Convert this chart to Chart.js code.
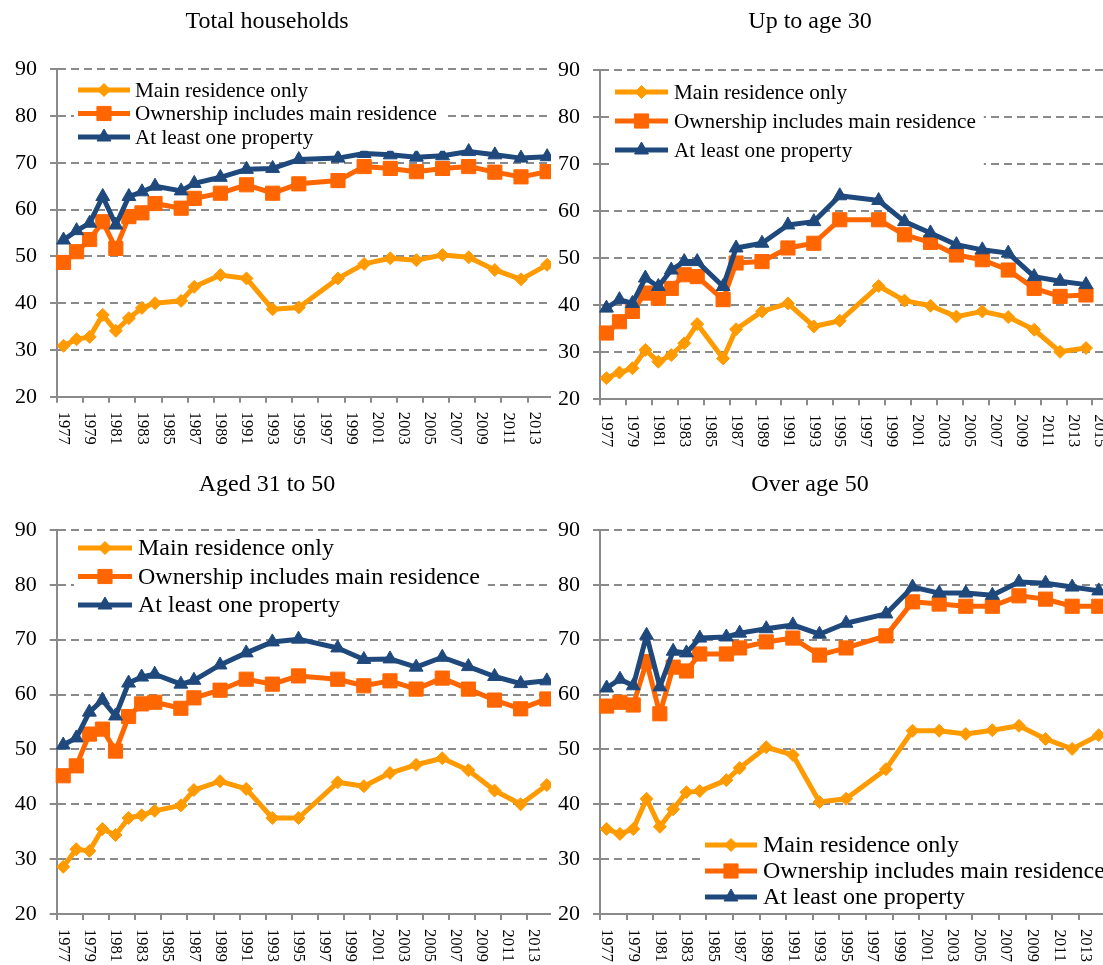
<!DOCTYPE html>
<html><head><meta charset="utf-8">
<script src="https://cdn.jsdelivr.net/npm/chart.js@4.4.1/dist/chart.umd.min.js"></script>
<style>
html,body{margin:0;padding:0;background:#fff;overflow:hidden;width:1103px;height:965px;}
.panel{position:absolute;overflow:hidden;background:transparent;}
.panel canvas{position:absolute;left:0;top:0;}
</style></head><body>
<div id="p1" class="panel"><canvas></canvas></div>
<div id="p2" class="panel"><canvas></canvas></div>
<div id="p3" class="panel"><canvas></canvas></div>
<div id="p4" class="panel"><canvas></canvas></div>
<script>
// ---------- data ----------
const axisYears = ['1977','1978','1979','1980','1981','1982','1983','1984','1985','1986','1987','1988','1989','1990','1991','1992','1993','1994','1995','1996','1997','1998','1999','2000','2001','2002','2003','2004','2005','2006','2007','2008','2009','2010','2011','2012','2013','2014','2015','2016'];
const surveyYears = [1977,1978,1979,1980,1981,1982,1983,1984,1986,1987,1989,1991,1993,1995,1998,2000,2002,2004,2006,2008,2010,2012,2014];
const seriesNames = ['Main residence only','Ownership includes main residence','At least one property'];
const panelTitles = ['Total households','Up to age 30','Aged 31 to 50','Over age 50'];
const yTickValues = [20,30,40,50,60,70,80,90];

const totalMain = [30.9,32.3,32.8,37.5,34.1,36.8,39.0,40.0,40.5,43.5,46.0,45.3,38.7,39.1,45.3,48.4,49.6,49.2,50.3,49.8,47.1,45.1,48.2];
const totalOwn  = [48.7,51.0,53.6,57.4,51.7,58.5,59.3,61.3,60.3,62.4,63.5,65.3,63.5,65.5,66.2,69.2,68.8,68.1,68.8,69.2,68.0,67.0,68.1];
const totalAny  = [53.5,55.5,57.1,62.8,56.7,62.8,63.8,65.0,64.0,65.6,66.9,68.6,68.8,70.7,71.0,72.0,71.7,71.2,71.5,72.4,71.7,71.0,71.3];

const youngMain = [24.5,25.7,26.6,30.5,28.0,29.4,31.9,36.0,28.7,34.9,38.7,40.4,35.5,36.7,44.1,41.0,39.9,37.6,38.7,37.5,34.8,30.1,30.9];
const youngOwn  = [34.1,36.5,38.7,42.6,41.5,43.6,46.5,46.1,41.2,49.0,49.3,52.2,53.2,58.2,58.2,55.0,53.4,50.7,49.7,47.5,43.6,41.9,42.2];
const youngAny  = [39.4,41.2,40.4,45.8,44.0,47.5,49.3,49.3,44.0,52.2,53.2,57.1,57.8,63.3,62.3,57.8,55.4,52.9,51.8,51.1,46.1,45.1,44.4];

const midMain = [28.6,31.8,31.5,35.5,34.4,37.5,38.0,38.8,39.8,42.6,44.2,42.8,37.5,37.5,44.0,43.3,45.7,47.2,48.4,46.2,42.5,40.0,43.5];
const midOwn  = [45.2,47.0,52.8,53.7,49.7,56.0,58.3,58.6,57.5,59.4,60.8,62.8,61.9,63.4,62.8,61.6,62.5,61.0,63.0,61.0,59.0,57.4,59.2];
const midAny  = [50.8,52.1,56.8,59.0,56.1,62.1,63.2,63.7,61.9,62.6,65.4,67.6,69.6,70.1,68.5,66.4,66.5,65.0,66.8,65.1,63.3,62.0,62.5];

const oldMain = [35.5,34.6,35.5,41.0,35.9,39.1,42.2,42.4,44.4,46.6,50.4,49.0,40.4,41.0,46.4,53.4,53.4,52.8,53.5,54.3,51.9,50.1,52.6];
const oldOwn  = [57.9,58.6,58.1,66.0,56.5,65.0,64.3,67.4,67.4,68.5,69.6,70.3,67.2,68.5,70.7,76.9,76.5,76.1,76.1,78.0,77.4,76.1,76.1];
const oldAny  = [61.2,62.8,61.6,70.8,61.4,67.9,67.6,70.3,70.5,71.2,72.0,72.7,71.0,73.0,74.7,79.6,78.5,78.5,78.1,80.5,80.3,79.6,78.9];

// ---------- styles ----------
const FONT = 'Liberation Serif';
const GRID = '#8a8a8a';
const COLORS = ['#FF9A00', '#FF6600', '#1F497D'];
const STYLES = [
  {pointStyle:'rectRot', radius:6.5},
  {pointStyle:'rect', radius:10},
  {pointStyle:'triangle', radius:8}
];

Chart.defaults.font.family = FONT;
Chart.defaults.color = '#000';

function drawMarker(ctx, style, r, x, y) {
  ctx.beginPath();
  if (style === 'rectRot') {
    ctx.moveTo(x - r, y); ctx.lineTo(x, y - r); ctx.lineTo(x + r, y); ctx.lineTo(x, y + r);
  } else if (style === 'rect') {
    const s = Math.SQRT1_2 * r; ctx.rect(x - s, y - s, 2 * s, 2 * s);
  } else {
    let a = 0;
    ctx.moveTo(x + Math.sin(a) * r, y - Math.cos(a) * r);
    a += 2 * Math.PI / 3; ctx.lineTo(x + Math.sin(a) * r, y - Math.cos(a) * r);
    a += 2 * Math.PI / 3; ctx.lineTo(x + Math.sin(a) * r, y - Math.cos(a) * r);
  }
  ctx.closePath(); ctx.fill(); ctx.stroke();
}

const insideLegend = {
  id: 'insideLegend',
  afterDraw(chart, args, o) {
    const ctx = chart.ctx;
    const dsets = chart.data.datasets;
    ctx.save();
    ctx.font = o.size + 'px "' + FONT + '"';
    let maxW = 0;
    dsets.forEach(d => { maxW = Math.max(maxW, ctx.measureText(d.label).width); });
    const tx = o.x + o.len + o.gap;
    ctx.fillStyle = '#fff';
    ctx.fillRect(o.x - 4, o.y - o.dy / 2 - 2, tx + maxW + 8 - (o.x - 4), o.dy * dsets.length + 4);
    dsets.forEach((d, i) => {
      const y = o.y + i * o.dy;
      ctx.strokeStyle = d.borderColor; ctx.lineWidth = d.borderWidth; ctx.lineJoin = 'round';
      ctx.beginPath(); ctx.moveTo(o.x, y); ctx.lineTo(o.x + o.len, y); ctx.stroke();
      ctx.fillStyle = d.pointBackgroundColor; ctx.lineWidth = 1;
      drawMarker(ctx, d.pointStyle, d.pointRadius, o.x + o.len / 2, y);
      ctx.fillStyle = '#000'; ctx.textAlign = 'left'; ctx.textBaseline = 'middle';
      ctx.fillText(d.label, tx, y + 1);
    });
    ctx.restore();
  }
};

const panelTitle = {
  id: 'panelTitle',
  afterDraw(chart, args, o) {
    const ctx = chart.ctx;
    ctx.save();
    ctx.font = o.size + 'px "' + FONT + '"';
    ctx.fillStyle = '#000'; ctx.textAlign = 'center'; ctx.textBaseline = 'middle';
    ctx.fillText(o.text, o.x, o.y);
    ctx.restore();
  }
};

function buildData(values) {
  return surveyYears.map((yr, i) => ({x: String(yr), y: values[i]}));
}

const PANELS = [
  {id:'p1', title:panelTitles[0], series:[totalMain,totalOwn,totalAny],
   box:{left:0,top:0,width:551,height:460}, plot:{left:57,top:69.2,bottom:396.8}, slot:13.07,
   titlePos:{x:267,y:22}, legend:{x:78,y:90,dy:23.5,len:52,gap:5,size:21.2}},
  {id:'p2', title:panelTitles[1], series:[youngMain,youngOwn,youngAny],
   box:{left:551,top:0,width:552,height:460}, plot:{left:600,top:70.3,bottom:399.3}, slot:12.96,
   titlePos:{x:810,y:22}, legend:{x:615,y:92,dy:29,len:53,gap:6,size:21.2}},
  {id:'p3', title:panelTitles[2], series:[midMain,midOwn,midAny],
   box:{left:0,top:460,width:551,height:505}, plot:{left:56.7,top:530,bottom:914}, slot:13.07,
   titlePos:{x:267,y:485}, legend:{x:78,y:548,dy:28.5,len:54,gap:6,size:24}},
  {id:'p4', title:panelTitles[3], series:[oldMain,oldOwn,oldAny],
   box:{left:551,top:460,width:552,height:505}, plot:{left:600,top:530,bottom:914}, slot:13.3,
   titlePos:{x:810,y:485}, legend:{x:705,y:845,dy:26,len:52,gap:6,size:24}}
];

const X_LABEL_SIZE = 16.5;

PANELS.forEach(p => {
  const box = document.getElementById(p.id);
  Object.assign(box.style, {left: p.box.left + 'px', top: p.box.top + 'px', width: p.box.width + 'px', height: p.box.height + 'px'});
  const canvas = box.querySelector('canvas');
  const yw = p.plot.left - p.box.left;
  const plotW = axisYears.length * p.slot;
  const W = Math.ceil(yw + plotW + 30);
  const rightPad = W - yw - plotW;
  const H = p.box.height;
  canvas.width = W; canvas.height = H;
  canvas.style.width = W + 'px'; canvas.style.height = H + 'px';
  const padTop = p.plot.top - p.box.top;
  const xh = p.box.top + p.box.height - p.plot.bottom;

  const datasets = p.series.map((vals, i) => ({
    label: seriesNames[i],
    data: buildData(vals),
    borderColor: COLORS[i],
    backgroundColor: COLORS[i],
    pointBackgroundColor: COLORS[i],
    pointBorderColor: COLORS[i],
    pointBorderWidth: 1,
    borderWidth: 5,
    pointStyle: STYLES[i].pointStyle,
    pointRadius: STYLES[i].radius,
    pointHoverRadius: STYLES[i].radius,
    tension: 0,
    borderJoinStyle: 'round',
    fill: false,
    order: 3 - i
  }));

  new Chart(canvas, {
    type: 'line',
    data: {labels: axisYears, datasets},
    options: {
      responsive: false,
      animation: false,
      devicePixelRatio: 1,
      events: [],
      layout: {padding: {top: padTop, left: 0, right: rightPad, bottom: 0}},
      plugins: {
        legend: {display: false},
        tooltip: {enabled: false},
        title: {display: false},
        insideLegend: {x: p.legend.x - p.box.left, y: p.legend.y - p.box.top, dy: p.legend.dy, len: p.legend.len, gap: p.legend.gap, size: p.legend.size},
        panelTitle: {text: p.title, x: p.titlePos.x - p.box.left, y: p.titlePos.y - p.box.top, size: 24}
      },
      scales: {
        x: {
          type: 'category',
          offset: true,
          grid: {
            offset: true, drawOnChartArea: false, drawTicks: true, tickLength: 6, lineWidth: 2, tickWidth: 2,
            tickColor: c => (c.index !== undefined && c.index % 2 === 1) ? 'rgba(0,0,0,0)' : GRID
          },
          border: {display: true, color: GRID, width: 2},
          ticks: {
            autoSkip: false, minRotation: -90, maxRotation: -90,
            padding: 2 * X_LABEL_SIZE + 9,
            font: {family: FONT, size: X_LABEL_SIZE}, color: '#000',
            callback: function(v, i) { return i % 2 === 0 ? this.getLabelForValue(v) : ''; }
          },
          afterFit: s => { s.height = xh; }
        },
        y: {
          min: 20, max: 90,
          afterBuildTicks: s => { s.ticks = yTickValues.map(v => ({value: v})); },
          grid: {color: GRID, lineWidth: 2, tickLength: 7, tickBorderDash: [], drawTicks: true},
          border: {display: true, color: GRID, width: 2, dash: [8, 5]},
          ticks: {padding: 13, font: {family: FONT, size: 22}, color: '#000'},
          afterFit: s => { s.width = yw; }
        }
      }
    },
    plugins: [insideLegend, panelTitle]
  });
});
</script>
</body></html>
